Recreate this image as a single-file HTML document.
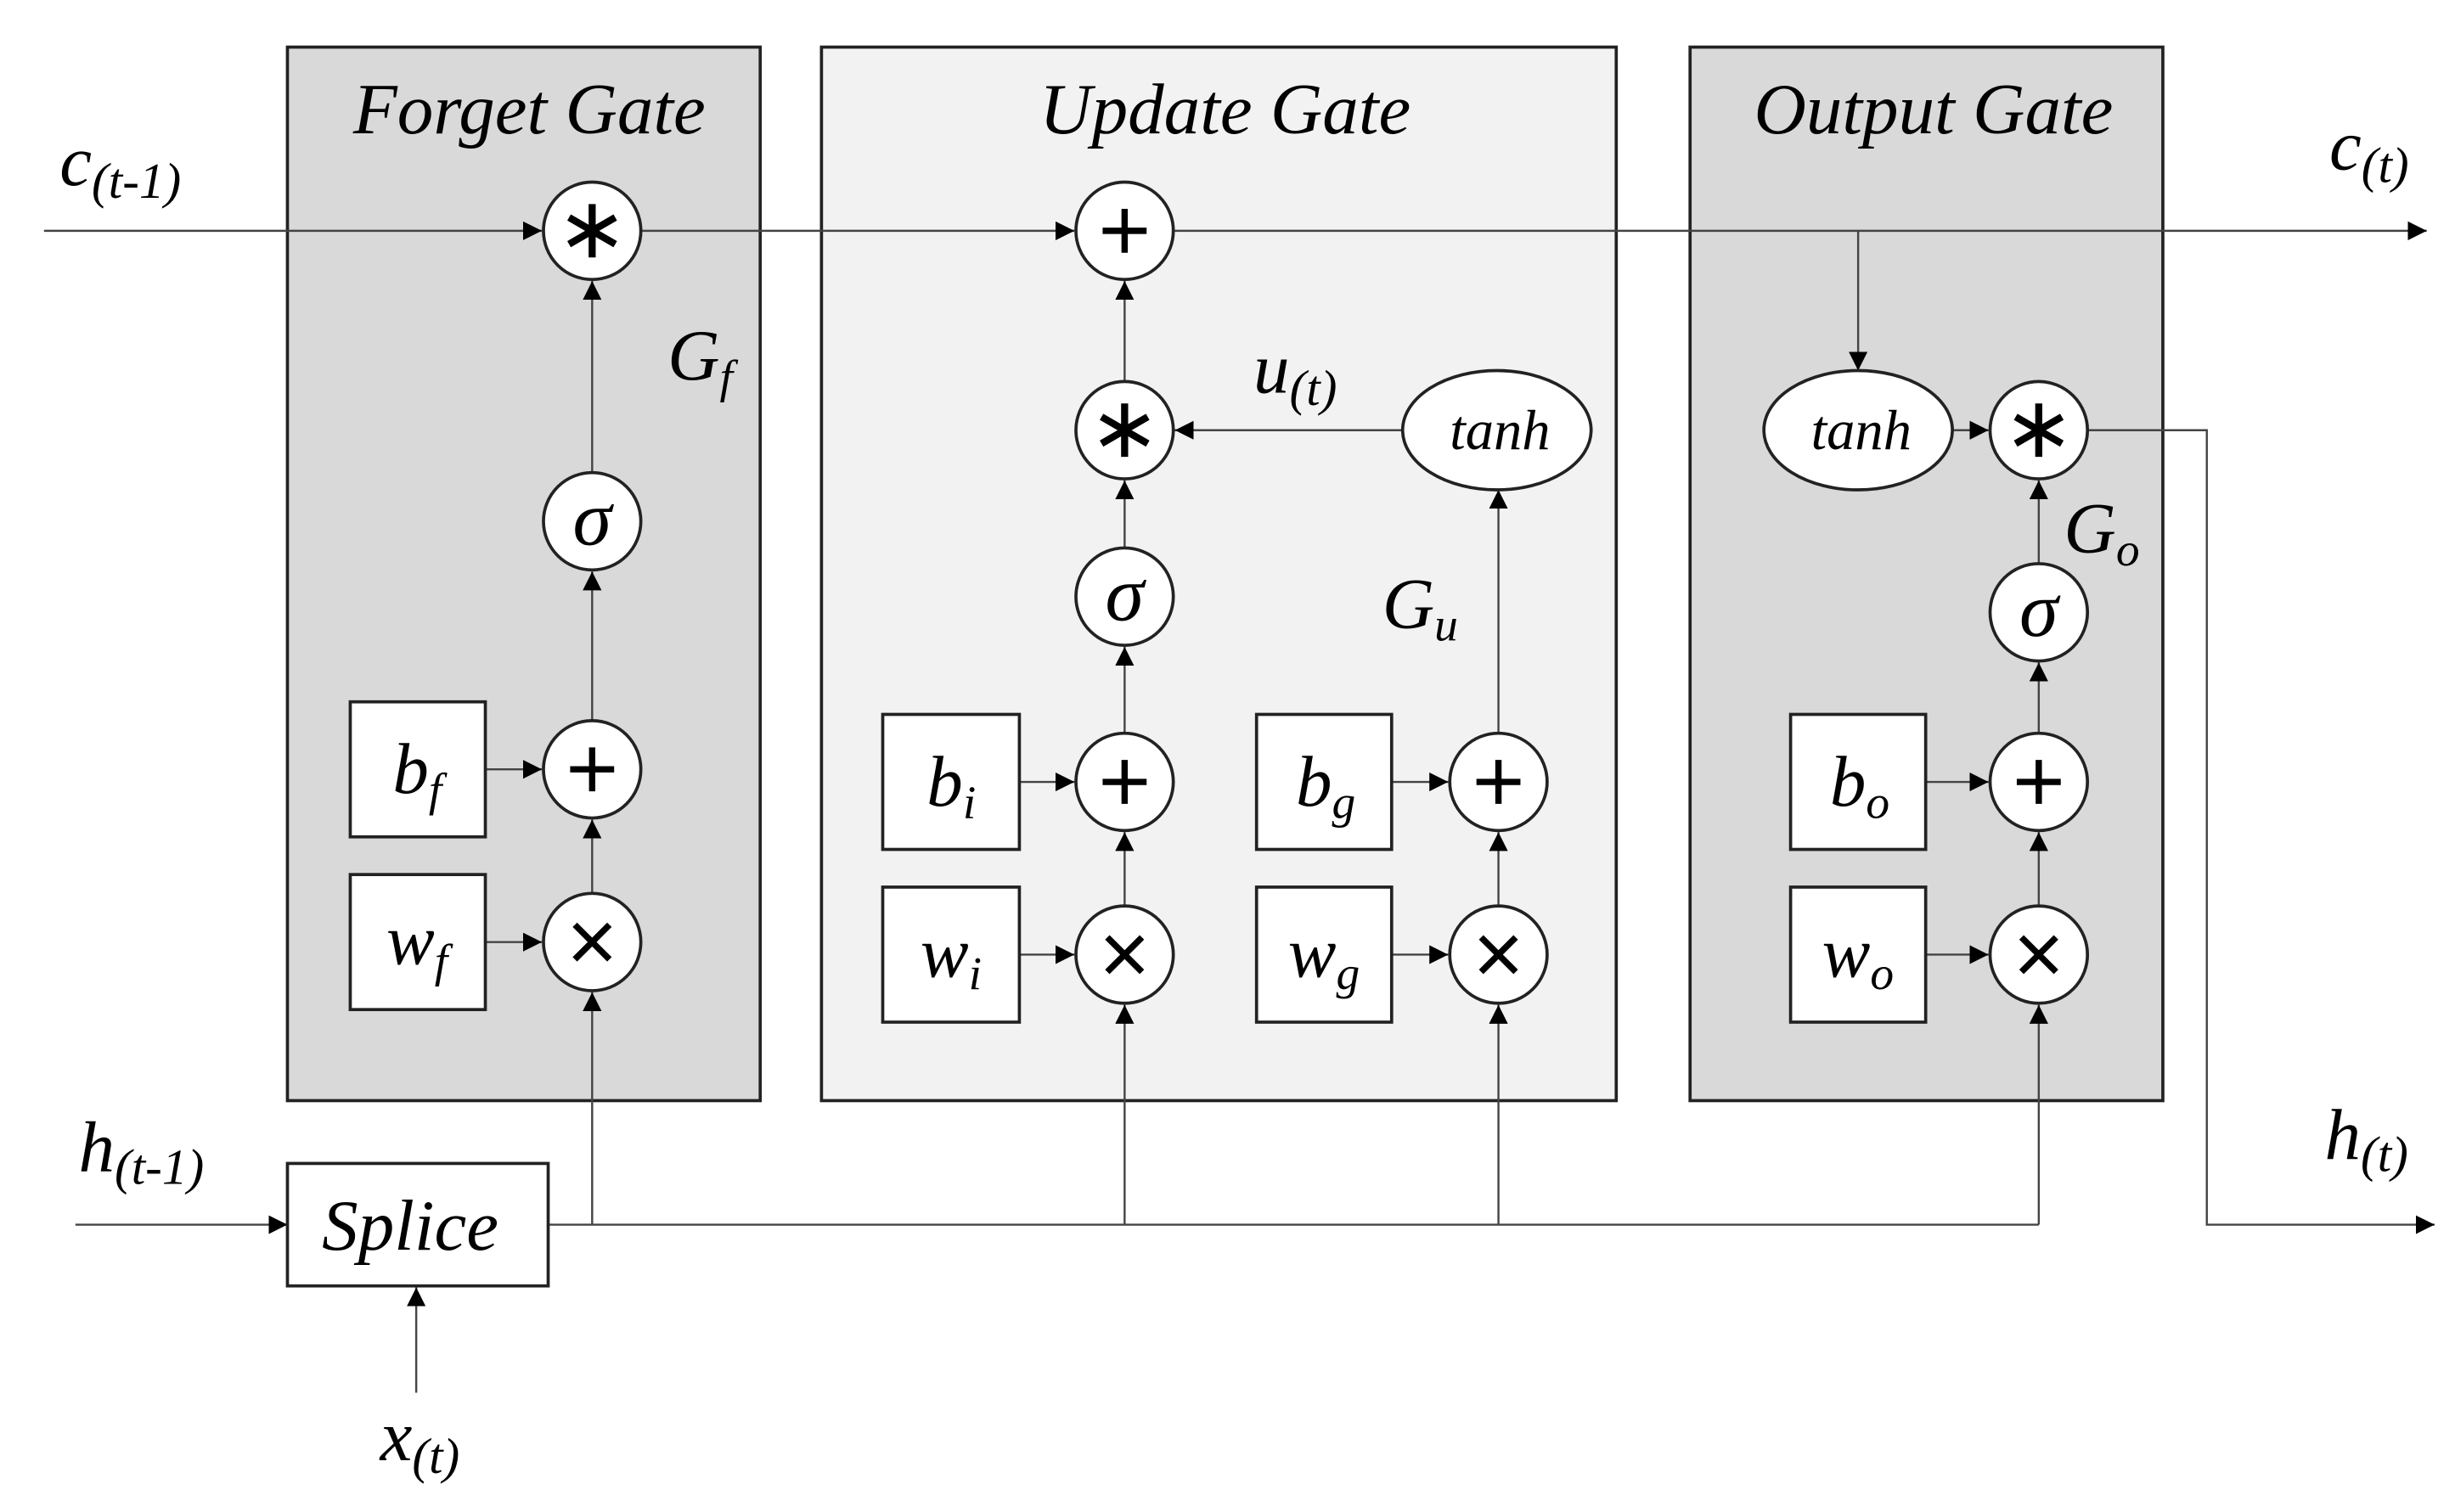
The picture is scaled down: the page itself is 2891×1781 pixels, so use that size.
<!DOCTYPE html>
<html><head><meta charset="utf-8"><style>
html,body{margin:0;padding:0;background:#fff;}
svg{display:block;}
text{font-family:"Liberation Serif",serif;font-style:italic;fill:#000;}
</style></head><body>
<svg width="2891" height="1781" viewBox="0 0 1563 963" preserveAspectRatio="none" xmlns="http://www.w3.org/2000/svg">
<defs>
<marker id="a" viewBox="0 0 10 10" refX="10" refY="5" markerWidth="12" markerHeight="12" markerUnits="userSpaceOnUse" orient="auto"><path d="M0,0 L10,5 L0,10 z" fill="#000"/></marker>
<g id="star" stroke="#000" stroke-width="4.5" stroke-linecap="butt"><line x1="0" y1="-17" x2="0" y2="17"/><line x1="-14.7" y1="-8.5" x2="14.7" y2="8.5"/><line x1="-14.7" y1="8.5" x2="14.7" y2="-8.5"/></g>
<g id="plus" stroke="#000" stroke-width="4"><line x1="-14" y1="0" x2="14" y2="0"/><line x1="0" y1="-14" x2="0" y2="14"/></g>
<g id="times" stroke="#000" stroke-width="4"><line x1="-11" y1="-11" x2="11" y2="11"/><line x1="-11" y1="11" x2="11" y2="-11"/></g>
</defs>
<rect x="183" y="30" width="301" height="671" fill="#d9d9d9" stroke="#222" stroke-width="2"/>
<rect x="523" y="30" width="506" height="671" fill="#f2f2f2" stroke="#222" stroke-width="2"/>
<rect x="1076" y="30" width="301" height="671" fill="#d9d9d9" stroke="#222" stroke-width="2"/>
<text x="337" y="85" font-size="46" text-anchor="middle">Forget Gate</text>
<text x="780" y="85" font-size="46" text-anchor="middle">Update Gate</text>
<text x="1231" y="85" font-size="46" text-anchor="middle">Output Gate</text>

<g stroke="#444" stroke-width="1.3" fill="none">
<line x1="28" y1="147" x2="345" y2="147" marker-end="url(#a)"/>
<line x1="408" y1="147" x2="684" y2="147" marker-end="url(#a)"/>
<line x1="748" y1="147" x2="1545" y2="147" marker-end="url(#a)"/>
<line x1="1183" y1="147" x2="1183" y2="236" marker-end="url(#a)"/>
<line x1="377" y1="301" x2="377" y2="179" marker-end="url(#a)"/>
<line x1="377" y1="459" x2="377" y2="364" marker-end="url(#a)"/>
<line x1="377" y1="569" x2="377" y2="522" marker-end="url(#a)"/>
<line x1="309" y1="490" x2="345" y2="490" marker-end="url(#a)"/>
<line x1="309" y1="600" x2="345" y2="600" marker-end="url(#a)"/>
<line x1="377" y1="780" x2="377" y2="632" marker-end="url(#a)"/>
<line x1="716" y1="243" x2="716" y2="179" marker-end="url(#a)"/>
<line x1="716" y1="349" x2="716" y2="306" marker-end="url(#a)"/>
<line x1="716" y1="467" x2="716" y2="412" marker-end="url(#a)"/>
<line x1="716" y1="577" x2="716" y2="530" marker-end="url(#a)"/>
<line x1="649" y1="498" x2="684" y2="498" marker-end="url(#a)"/>
<line x1="649" y1="608" x2="684" y2="608" marker-end="url(#a)"/>
<line x1="716" y1="780" x2="716" y2="640" marker-end="url(#a)"/>
<line x1="893" y1="274" x2="748" y2="274" marker-end="url(#a)"/>
<line x1="954" y1="467" x2="954" y2="312" marker-end="url(#a)"/>
<line x1="954" y1="577" x2="954" y2="530" marker-end="url(#a)"/>
<line x1="886" y1="498" x2="922" y2="498" marker-end="url(#a)"/>
<line x1="886" y1="608" x2="922" y2="608" marker-end="url(#a)"/>
<line x1="954" y1="780" x2="954" y2="640" marker-end="url(#a)"/>
<line x1="1243" y1="274" x2="1266" y2="274" marker-end="url(#a)"/>
<line x1="1298" y1="359" x2="1298" y2="306" marker-end="url(#a)"/>
<line x1="1298" y1="467" x2="1298" y2="422" marker-end="url(#a)"/>
<line x1="1298" y1="577" x2="1298" y2="530" marker-end="url(#a)"/>
<line x1="1226" y1="498" x2="1266" y2="498" marker-end="url(#a)"/>
<line x1="1226" y1="608" x2="1266" y2="608" marker-end="url(#a)"/>
<line x1="1298" y1="780" x2="1298" y2="640" marker-end="url(#a)"/>
<polyline points="1329,274 1405,274 1405,780 1550,780" marker-end="url(#a)"/>
<line x1="349" y1="780" x2="1298" y2="780"/>
<line x1="48" y1="780" x2="183" y2="780" marker-end="url(#a)"/>
<line x1="265" y1="887" x2="265" y2="820" marker-end="url(#a)"/>
</g>

<g fill="#fff" stroke="#222" stroke-width="2">
<rect x="223" y="447" width="86" height="86"/>
<rect x="223" y="557" width="86" height="86"/>
<rect x="562" y="455" width="87" height="86"/>
<rect x="562" y="565" width="87" height="86"/>
<rect x="800" y="455" width="86" height="86"/>
<rect x="800" y="565" width="86" height="86"/>
<rect x="1140" y="455" width="86" height="86"/>
<rect x="1140" y="565" width="86" height="86"/>
<rect x="183" y="741" width="166" height="78"/>
<ellipse cx="953" cy="274" rx="60" ry="38"/>
<ellipse cx="1183" cy="274" rx="60" ry="38"/>
<circle cx="377" cy="147" r="31"/><circle cx="377" cy="332" r="31"/><circle cx="377" cy="490" r="31"/><circle cx="377" cy="600" r="31"/>
<circle cx="716" cy="147" r="31"/><circle cx="716" cy="274" r="31"/><circle cx="716" cy="380" r="31"/><circle cx="716" cy="498" r="31"/><circle cx="716" cy="608" r="31"/>
<circle cx="954" cy="498" r="31"/><circle cx="954" cy="608" r="31"/>
<circle cx="1298" cy="274" r="31"/><circle cx="1298" cy="390" r="31"/><circle cx="1298" cy="498" r="31"/><circle cx="1298" cy="608" r="31"/>
</g>

<use href="#star" x="377" y="147"/><use href="#star" x="716" y="274"/><use href="#star" x="1298" y="274"/>
<use href="#plus" x="716" y="147"/><use href="#plus" x="377" y="490"/><use href="#plus" x="716" y="498"/><use href="#plus" x="954" y="498"/><use href="#plus" x="1298" y="498"/>
<use href="#times" x="377" y="600"/><use href="#times" x="716" y="608"/><use href="#times" x="954" y="608"/><use href="#times" x="1298" y="608"/>

<g text-anchor="middle" font-size="50">
<text x="377" y="347">σ</text>
<text x="716" y="395">σ</text>
<text x="1298" y="405">σ</text>
</g>
<text x="955" y="286" font-size="36" text-anchor="middle">tanh</text>
<text x="1185" y="286" font-size="36" text-anchor="middle">tanh</text>

<g font-size="46">
<text x="250" y="505">b<tspan font-size="30" dy="8">f</tspan></text>
<text x="246" y="614">w<tspan font-size="30" dy="8">f</tspan></text>
<text x="590" y="513">b<tspan font-size="30" dy="8">i</tspan></text>
<text x="586" y="622">w<tspan font-size="30" dy="8">i</tspan></text>
<text x="825" y="513">b<tspan font-size="30" dy="8">g</tspan></text>
<text x="820" y="622">w<tspan font-size="30" dy="8">g</tspan></text>
<text x="1165" y="513">b<tspan font-size="30" dy="8">o</tspan></text>
<text x="1160" y="622">w<tspan font-size="30" dy="8">o</tspan></text>
<text x="205" y="796">Splice</text>
<text x="38" y="118">c<tspan font-size="32" dy="8">(t-1)</tspan></text>
<text x="1483" y="108">c<tspan font-size="32" dy="8">(t)</tspan></text>
<text x="50" y="746">h<tspan font-size="32" dy="8">(t-1)</tspan></text>
<text x="1480" y="738">h<tspan font-size="32" dy="8">(t)</tspan></text>
<text x="242" y="930">x<tspan font-size="32" dy="8">(t)</tspan></text>
<text x="425" y="242">G<tspan font-size="30" dy="8">f</tspan></text>
<text x="880" y="400">G<tspan font-size="30" dy="8">u</tspan></text>
<text x="1314" y="352">G<tspan font-size="30" dy="8">o</tspan></text>
<text x="798" y="250">u<tspan font-size="32" dy="8">(t)</tspan></text>
</g>
</svg>
</body></html>
